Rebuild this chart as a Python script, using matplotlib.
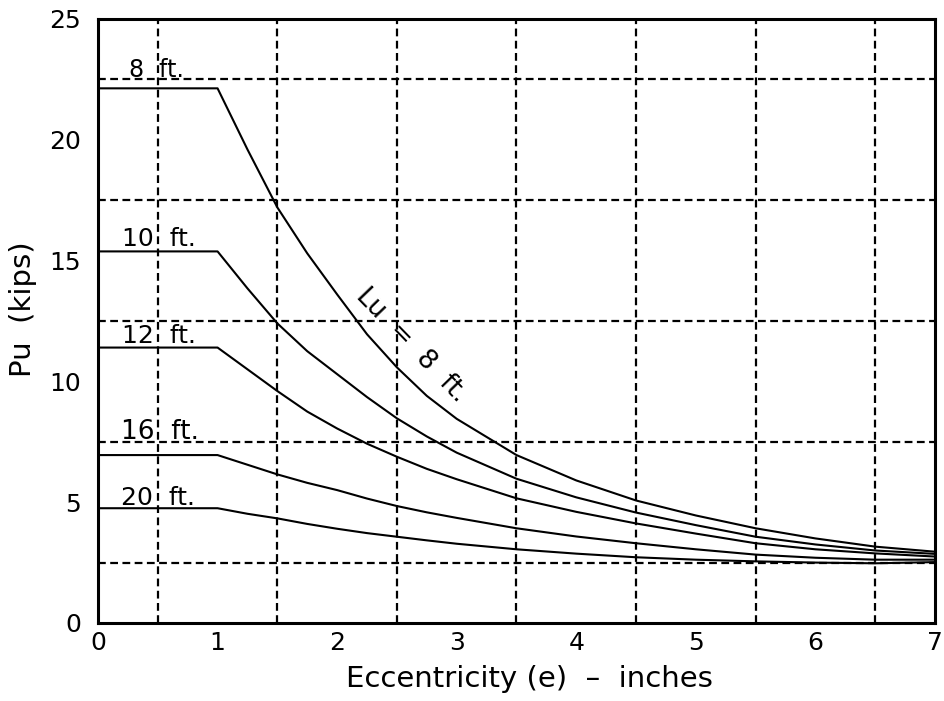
import matplotlib
matplotlib.use("Agg")
import matplotlib.pyplot as plt

# Eccentricity (inches)
ecc = [0, 1, 1.25, 1.5, 1.75, 2, 2.25, 2.5, 2.75, 3, 3.5, 4, 4.5, 5, 5.5, 6, 6.5, 7]

# Pu (kips) for each unbraced length
pu_8 = [22.13, 22.13, 19.6, 17.2, 15.3, 13.6, 11.95, 10.58, 9.4, 8.45, 6.95, 5.9, 5.07, 4.45, 3.92, 3.5, 3.16, 2.95]
pu_10 = [15.38, 15.38, 13.85, 12.4, 11.25, 10.3, 9.35, 8.47, 7.72, 7.05, 5.97, 5.2, 4.57, 4.05, 3.57, 3.25, 3.0, 2.86]
pu_12 = [11.40, 11.40, 10.5, 9.6, 8.75, 8.05, 7.42, 6.88, 6.38, 5.95, 5.16, 4.6, 4.12, 3.7, 3.3, 3.05, 2.88, 2.75]
pu_16 = [6.95, 6.95, 6.55, 6.15, 5.8, 5.5, 5.15, 4.84, 4.58, 4.35, 3.92, 3.58, 3.3, 3.05, 2.83, 2.7, 2.62, 2.62]
pu_20 = [4.75, 4.75, 4.52, 4.33, 4.1, 3.9, 3.72, 3.57, 3.42, 3.28, 3.05, 2.87, 2.72, 2.62, 2.55, 2.5, 2.47, 2.52]

curve_labels = ["8  ft.", "10  ft.", "12  ft.", "16  ft.", "20  ft."]
series = [pu_8, pu_10, pu_12, pu_16, pu_20]

x_ticks = [0, 1, 2, 3, 4, 5, 6, 7]
y_ticks = [0, 5, 10, 15, 20, 25]
x_grid = [0.5, 1.5, 2.5, 3.5, 4.5, 5.5, 6.5]
y_grid = [2.5, 7.5, 12.5, 17.5, 22.5]

# label layout (not data)
label_x = [0.26, 0.2, 0.2, 0.19, 0.19]
label_y = [22.6, 15.6, 11.6, 7.6, 4.9]
label_size = [17, 18, 18, 19, 18]

plt.rcParams['font.family'] = ['DejaVu Sans']

fig = plt.figure(figsize=(9.45, 7.01), dpi=100)
ax = fig.add_axes([0.1037, 0.1113, 0.8857, 0.8616])

for g in x_grid:
    ax.axvline(g, color='black', lw=1.6, linestyle=(0, (3.5, 2)), zorder=1)
for g in y_grid:
    ax.axhline(g, color='black', lw=1.6, linestyle=(0, (3.5, 2)), zorder=1)

for s in series:
    ax.plot(ecc, s, color='black', lw=1.5, zorder=2)

for lx, ly, fs, lab in zip(label_x, label_y, label_size, curve_labels):
    ax.text(lx, ly, lab, fontsize=fs, ha='left', va='baseline', zorder=3)

ax.text(2.62, 11.5, "Lu  =  8  ft.", fontsize=19, rotation=-46,
        ha='center', va='center', rotation_mode='anchor', zorder=3)

ax.set_xlim(0, 7)
ax.set_ylim(0, 25)
ax.set_xticks(x_ticks)
ax.set_yticks(y_ticks)
ax.tick_params(axis='both', length=0, labelsize=18)
ax.tick_params(axis='x', pad=6)
ax.tick_params(axis='y', pad=12)
for sp in ax.spines.values():
    sp.set_linewidth(2.2)

ax.set_xlabel("Eccentricity (e)  \u2013  inches", fontsize=21)
ax.set_ylabel("Pu  (kips)", fontsize=21)
ax.xaxis.set_label_coords(0.516, -0.07)
ax.yaxis.set_label_coords(-0.073, 0.52)

fig.savefig("out.png", dpi=100)
